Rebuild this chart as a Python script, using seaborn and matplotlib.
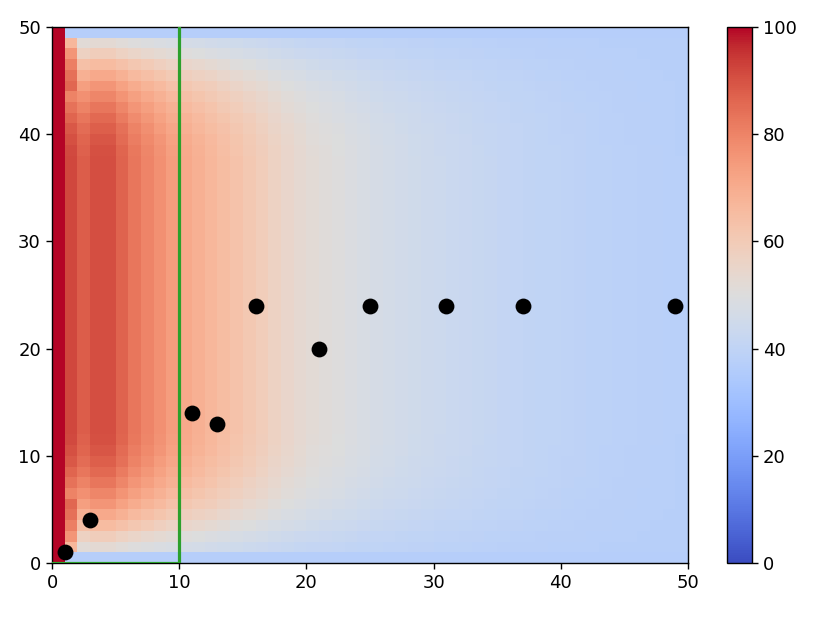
import numpy as np
import matplotlib
matplotlib.use("Agg")
import matplotlib.pyplot as plt
import seaborn as sns

# plate temperatures
wall_temp = 100
edge_temp = 37

# temperature at mid height for each column x = 0..49
col_temp = [100, 92, 88, 91, 91, 87, 83, 80, 77, 74,
            71, 69, 67, 65, 63, 61, 59, 57, 55, 53.5,
            52, 51, 50, 49, 48, 47, 46.3, 45.6, 45, 44.4,
            43.8, 43.3, 42.8, 42.3, 41.8, 41.4, 41, 40.6, 40.2, 39.9,
            39.6, 39.3, 39, 38.7, 38.5, 38.3, 38.1, 37.9, 37.7, 37.5]

# vertical shape, row 0 = bottom (0 = edge temp, 1 = mid height temp)
row_shape = [0, 0.29, 0.40, 0.53, 0.63, 0.72, 0.79, 0.85, 0.90, 0.94,
             0.97, 0.99, 1, 1, 1, 1, 1, 1, 1, 1,
             1, 1, 1, 1, 1, 1, 1, 1, 1, 1,
             1, 1, 1, 1, 1, 1, 1, 1, 0.99, 0.97,
             0.94, 0.90, 0.85, 0.79, 0.72, 0.63, 0.53, 0.40, 0.29, 0]

# column next to the hot wall, rows 1..5 from the edge
col1_edge = [67, 76, 81, 84, 86]

# sensor positions
sensor_x = [1, 3, 11, 13, 16, 21, 25, 31, 37, 49]
sensor_y = [1, 4, 14, 13, 24, 20, 24, 24, 24, 24]

# green region boundary (bottom edge and right edge)
region_x = [0, 10, 10]
region_y = [0, 0, 50]

cols = np.array(col_temp, dtype=float)
shape = np.array(row_shape, dtype=float)
grid = edge_temp + np.outer(shape, cols - edge_temp)
grid[:, 0] = wall_temp
grid[1:6, 1] = col1_edge
grid[44:49, 1] = col1_edge[::-1]

plt.rcParams['font.family'] = ['DejaVu Sans']
fig = plt.figure(figsize=(8.3, 6.17), dpi=100)
ax = fig.add_axes([52 / 830, 1 - 563 / 617, 636 / 830, 536 / 617])
cax = fig.add_axes([727 / 830, 1 - 563 / 617, 25 / 830, 536 / 617])

sns.heatmap(grid, cmap="coolwarm", vmin=0, vmax=100, ax=ax, cbar_ax=cax,
            xticklabels=False, yticklabels=False)
ax.set_ylim(0, 50)
ax.set_xlim(0, 50)

ax.plot(region_x, region_y, color="#2ca02c", lw=2.3, zorder=3)
sns.scatterplot(x=sensor_x, y=sensor_y, color="black", s=130,
                edgecolor="black", linewidth=0, ax=ax, zorder=4, legend=False)

ticks = list(range(0, 51, 10))
ax.set_xticks(ticks)
ax.set_xticklabels([str(t) for t in ticks], rotation=0)
ax.set_yticks(ticks)
ax.set_yticklabels([str(t) for t in ticks], rotation=0)
ax.tick_params(labelsize=13, length=4.5, width=1, colors="black")
for sp in ax.spines.values():
    sp.set_visible(True)
    sp.set_linewidth(1)
    sp.set_color("black")
ax.set_xlabel("")
ax.set_ylabel("")

cb = ax.collections[0].colorbar
cb.outline.set_visible(True)
cb.outline.set_linewidth(1)
cb.outline.set_edgecolor("black")
cb.set_ticks([0, 20, 40, 60, 80, 100])
cax.tick_params(labelsize=13, length=4.5, width=1)

fig.savefig("out.png", dpi=100)
